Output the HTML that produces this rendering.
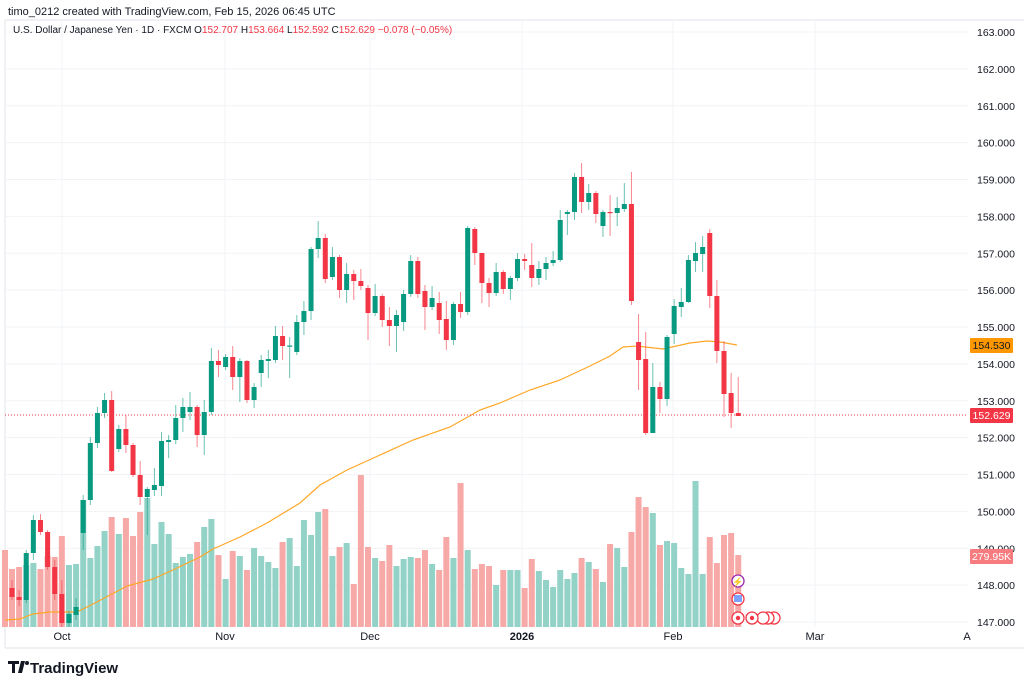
<!DOCTYPE html>
<html><head><meta charset="utf-8"><style>
html,body{margin:0;padding:0;background:#fff;width:1024px;height:691px;overflow:hidden;font-family:"Liberation Sans",sans-serif;}
svg text{font-family:"Liberation Sans",sans-serif;}
</style></head><body>
<svg id="c" width="1024" height="691" xmlns="http://www.w3.org/2000/svg">
<rect width="1024" height="691" fill="#fff"/>
<text x="8" y="15" font-size="11" fill="#131722">timo_0212 created with TradingView.com, Feb 15, 2026 06:45 UTC</text>
<line x1="5" y1="20" x2="1024" y2="20" stroke="#e0e3eb"/>
<line x1="5" y1="20" x2="5" y2="648" stroke="#e0e3eb"/>
<line x1="5" y1="648" x2="1024" y2="648" stroke="#e0e3eb"/>
<g id="grid"></g>
<g id="vol"></g>
<polyline fill="none" stroke="#ffa726" stroke-width="1.2" points="5,620 20,619 33,614 50,612 77,612 95,603 110,595 127,586 153,579 175,569 200,557 213,549 240,537 267,523 300,503 320,485 347,470 380,455 413,440 450,427 480,410 500,403 530,390 560,380 590,366 610,356 623,347 637,346 663,349 690,343 707,341 720,342 737,345"/>
<line x1="5" y1="415" x2="968" y2="415" stroke="#f23645" stroke-width="1" stroke-dasharray="1,2"/>
<g id="candles"></g>
<g id="axis"></g>
<text x="13" y="33" font-size="10" fill="#131722">U.S. Dollar / Japanese Yen · 1D · FXCM  O<tspan fill="#f23645">152.707</tspan>  H<tspan fill="#f23645">153.664</tspan>  L<tspan fill="#f23645">152.592</tspan>  C<tspan fill="#f23645">152.629</tspan>  <tspan fill="#f23645">−0.078 (−0.05%)</tspan></text>
<rect x="970" y="338" width="43" height="15" fill="#ff9800" rx="1"/>
<text x="991.5" y="349" font-size="10.5" fill="#131722" text-anchor="middle">154.530</text>
<rect x="970" y="408" width="43" height="15" fill="#f23645" rx="1"/>
<text x="991.5" y="419" font-size="10.5" fill="#fff" text-anchor="middle">152.629</text>
<rect x="970" y="549" width="43" height="15" fill="#f77c80" rx="1"/>
<text x="991.5" y="560" font-size="10.5" fill="#fff" text-anchor="middle">279.95K</text>
<circle cx="738" cy="581" r="6" fill="#fff" stroke="#9c27b0" stroke-width="1.3"/>
<text x="738" y="585" font-size="9" fill="#9c27b0" text-anchor="middle">⚡</text>
<circle cx="738" cy="599" r="6" fill="#fff" stroke="#f23645" stroke-width="1.3"/>
<rect x="734" y="595" width="8" height="7" fill="#2962ff" opacity="0.6"/>
<g fill="#fff" stroke="#f23645" stroke-width="1.3">
<circle cx="774" cy="618" r="6"/><circle cx="768" cy="618" r="6"/><circle cx="763" cy="618" r="6"/><circle cx="752" cy="618" r="6"/><circle cx="738" cy="618" r="6"/>
</g>
<circle cx="738" cy="618" r="2.2" fill="#f23645"/><circle cx="752" cy="618" r="2.2" fill="#f23645"/>
<g font-size="11" fill="#131722" text-anchor="middle">
<text x="62" y="640">Oct</text><text x="225" y="640">Nov</text><text x="370" y="640">Dec</text>
<text x="522" y="640" font-weight="bold">2026</text><text x="673" y="640">Feb</text><text x="815" y="640">Mar</text><text x="967" y="640">A</text>
</g>
<g transform="translate(8,661)">
<path d="M0 0h11v3h-4v9h-3v-9h-4z M13 0h4l-3 12h-4z" fill="#131722"/>
<circle cx="19" cy="2" r="2" fill="#131722"/>
<text x="22" y="12" font-size="15" font-weight="bold" fill="#131722">TradingView</text>
</g>
</svg>
<script>
var NS="http://www.w3.org/2000/svg";
function el(p,t,a){var e=document.createElementNS(NS,t);for(var k in a)e.setAttribute(k,a[k]);p.appendChild(e);return e;}
var grid=document.getElementById('grid'),axis=document.getElementById('axis');
for(var p=147;p<=163;p++){var y=622-(p-147)*36.875;
el(grid,'line',{x1:5,x2:968,y1:y,y2:y,stroke:'#f2f3f6'});
var t=el(axis,'text',{x:977,y:y+4,'font-size':'10.5',fill:'#131722'});t.textContent=p+'.000';}
[62,225,370,522,673,815].forEach(function(x){el(grid,'line',{x1:x,x2:x,y1:20,y2:627,stroke:'#f2f3f6'});});
var C=[[588,597,580,600],[597,600,590,606],[600,553,550,603],[553,520,515,560],[520,532,514,535],[532,567,530,570],[567,594,560,600],[594,623,580,627],[623,614,611,627],[615,607,598,620],[533,500,495,550],[500,443,437,505],[443,413,407,448],[413,400,393,418],[400,471,391,472],[449,429,425,452],[429,445,415,453],[445,475,443,477],[475,497,461,505],[497,489,487,535],[490,485,468,496],[486,441,432,496],[442,440,435,458],[440,418,405,444],[418,407,398,432],[412,407,392,420],[407,435,405,447],[435,412,400,455],[412,361,348,415],[361,365,350,377],[367,357,354,370],[357,377,346,390],[377,361,358,402],[361,400,360,403],[400,387,383,408],[373,360,355,387],[361,359,350,378],[360,336,326,363],[336,346,326,360],[346.5,345.5,337,378],[352,322,315,355],[322,311,301,335],[311,249,247,320],[249,238,221,258],[238,279,234,283],[277,257,247,280],[257,290,255,298],[290,274,263,303],[274,281,270,300],[281,286,269,290],[288,313,285,340],[313,296,284,316],[296,320,294,327],[320,326,307,346],[326,315,310,352],[322,294,290,331],[294,261,255,297],[261,294,257,298],[291,307,285,330],[307,298,286,310],[303,320,292,334],[319,340,301,350],[340,304,302,345],[304,312,292,318],[312,228,226,315],[229,253,227,265],[253,283,253,303],[283,293,278,307],[293,272,263,296],[272,289,270,294],[289,278,276,300],[278,259,253,281],[259,261,254,270],[265,278,243,287],[278,269,261,285],[269,263,257,280],[263,260,251,266],[260,220,210,262],[214,212,210,235],[212,177,173,220],[177,202,163,213],[202,193,184,210],[193,214,191,223],[226,212,210,237],[212,212.5,195,236],[213,208,197,226],[209,204,183,212],[204,301,172,305],[342,360,314,390],[359,433,332,435],[433,387,363,433],[387,399,382,413],[399,337,335,406],[334,306,299,344],[307,302,288,317],[302,260,255,303],[261,253,242,272],[254,247,236,272],[233,296,229,308],[296,351,280,363],[351,394,341,417],[393,413,373,428],[413,416,377,416]];
var V=[[569,0],[567,0],[565,1],[563,1],[569,0],[556,0],[557,0],[536,0],[565,1],[564,1],[500,1],[558,1],[546,1],[531,1],[517,0],[534,1],[518,0],[536,0],[512,0],[498,1],[544,1],[522,1],[534,1],[563,1],[557,1],[554,1],[542,0],[527,1],[519,1],[555,0],[579,1],[551,0],[556,1],[570,0],[548,1],[556,1],[562,1],[568,1],[542,0],[538,1],[566,1],[520,1],[535,1],[512,1],[509,0],[556,1],[547,0],[543,1],[584,0],[475,0],[547,0],[558,1],[561,0],[545,0],[566,1],[559,1],[557,1],[558,0],[550,0],[564,1],[570,0],[537,0],[558,1],[483,0],[550,1],[569,0],[564,0],[566,0],[585,1],[570,0],[570,1],[570,1],[588,0],[559,0],[571,1],[580,1],[587,1],[570,1],[579,1],[573,1],[558,0],[562,1],[569,0],[582,1],[544,0],[548,1],[567,1],[532,0],[497,0],[507,0],[513,1],[545,0],[541,1],[543,1],[568,1],[574,1],[481,1],[574,1],[537,0],[563,0],[535,0],[533,0],[555,0]];
var vol=document.getElementById('vol'),cg=document.getElementById('candles');
el(vol,'rect',{x:2,y:550,width:6,height:77,fill:'#f7a9a8'});
V.forEach(function(v,i){var x=12+i*7.12;el(vol,'rect',{x:x-3,y:v[0],width:6,height:627-v[0],fill:v[1]?'#93d2c7':'#f7a9a8'});});
C.forEach(function(c,i){var x=12+i*7.12,g=c[1]<c[0],col=g?'#089981':'#f23645';
var top=Math.min(c[0],c[1]),b=Math.max(c[0],c[1]);
el(cg,'line',{x1:x,x2:x,y1:c[2],y2:c[3],stroke:col,'stroke-width':1,opacity:0.6});
el(cg,'rect',{x:x-2.5,y:top,width:5,height:Math.max(1.2,b-top),fill:col});});
</script>
</body></html>
